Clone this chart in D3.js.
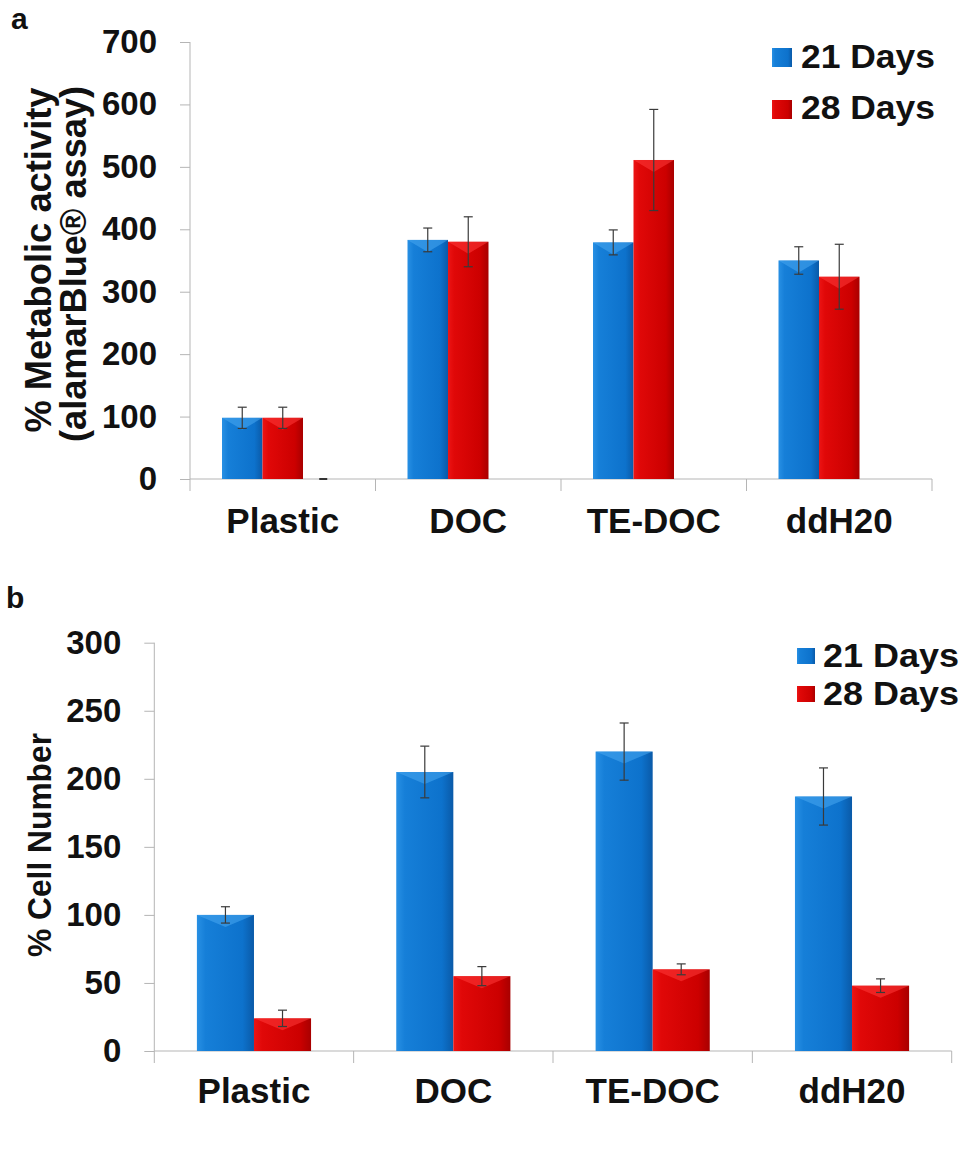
<!DOCTYPE html>
<html><head><meta charset="utf-8">
<script src="https://cdn.jsdelivr.net/npm/d3@7/dist/d3.min.js"></script>
<style>
html,body{margin:0;padding:0;background:#fff;}
svg text{font-family:"Liberation Sans",Arial,sans-serif;font-weight:bold;fill:#111;}
</style></head>
<body>
<svg id="chart" width="963" height="1173"></svg>
<script>
// ---------- data ----------
const categories = ["Plastic", "DOC", "TE-DOC", "ddH20"];
const seriesNames = ["21 Days", "28 Days"];

// Panel a: % Metabolic activity (alamarBlue assay)
const metab21 = [98, 383, 379, 350];
const metab21Err = [17, 19, 20, 22];
const metab28 = [98, 380, 511, 324];
const metab28Err = [17, 40, 81, 52];
const metabEmpty = [0, null, null, null]; // third (blank) series, zero marker on Plastic
const metabTicks = [0, 100, 200, 300, 400, 500, 600, 700];

// Panel b: % Cell Number
const cell21 = [100, 205, 220, 187];
const cell21Err = [6, 19, 21, 21];
const cell28 = [24, 55, 60, 48];
const cell28Err = [6, 7, 4, 5];
const cellTicks = [0, 50, 100, 150, 200, 250, 300];

// ---------- setup ----------
const svg = d3.select("#chart");
const defs = svg.append("defs");
function grad(id, stops){
  const g = defs.append("linearGradient").attr("id", id).attr("x1","0").attr("x2","1").attr("y1","0").attr("y2","0");
  stops.forEach(s => g.append("stop").attr("offset", s[0]).attr("stop-color", s[1]));
}
grad("gBlue", [[0,"#2890e4"],[0.15,"#167fd8"],[0.8,"#0d72cc"],[1,"#0a5aa8"]]);
grad("gRed", [[0,"#ec1414"],[0.15,"#e00808"],[0.8,"#cc0000"],[1,"#a80000"]]);
const fills = ["url(#gBlue)", "url(#gRed)"];
const topShade = ["#48a8f0", "#ff3a3a"];

function panel(o){
  const y = d3.scaleLinear().domain([0, o.ticks[o.ticks.length-1]]).range([o.y0, o.y1]);
  const x = d3.scaleBand().domain(categories).range([o.x0, o.x1]).padding(0);
  const inner = d3.scaleBand().domain(o.slots).range([o.gap, x.bandwidth() - o.gap]).padding(0);
  const g = svg.append("g");

  // y axis
  const ya = g.append("g").attr("transform", `translate(${o.x0},0)`)
    .call(d3.axisLeft(y).tickValues(o.ticks).tickSize(10).tickSizeOuter(0).tickPadding(23));
  ya.select(".domain").attr("stroke", "#b5b5b5").attr("d", `M0,${o.y1}V${o.y0 + 12}`);
  ya.selectAll(".tick line").attr("stroke", "#b5b5b5");
  ya.selectAll(".tick text").style("font-size", "33px").attr("fill", "#111")
    .style("font-family", '"Liberation Sans",Arial,sans-serif').style("font-weight", "bold");

  // x axis
  const xa = g.append("g").attr("transform", `translate(0,${o.y0})`)
    .call(d3.axisBottom(x).tickSize(0).tickPadding(0).tickFormat(""));
  xa.select(".domain").attr("stroke", "#b5b5b5").attr("d", `M${o.x0},0H${o.x1}`);
  g.append("g").selectAll("line").data(categories.slice(1).concat(["end"]))
    .join("line")
    .attr("x1", (d,i) => i < categories.length - 1 ? x(d) : o.x1)
    .attr("x2", (d,i) => i < categories.length - 1 ? x(d) : o.x1)
    .attr("y1", o.y0).attr("y2", o.y0 + 12).attr("stroke", "#b5b5b5");
  g.append("g").selectAll("text").data(categories).join("text")
    .attr("x", d => x(d) + x.bandwidth()/2).attr("y", o.labelY)
    .attr("text-anchor", "middle").style("font-size", "35px").text(d => d);

  // bars
  o.series.forEach((s, si) => {
    const sg = g.append("g");
    categories.forEach((c, ci) => {
      const v = s.vals[ci];
      const bx = x(c) + inner(seriesNames[si]);
      const w = inner.bandwidth();
      sg.append("rect").attr("x", bx).attr("y", y(v)).attr("width", w).attr("height", y(0) - y(v))
        .attr("fill", fills[si]);
      // bevel highlight at top
      sg.append("path")
        .attr("d", `M${bx},${y(v)}H${bx + w}L${bx + w*0.5},${y(v) + Math.min(12, (y(0)-y(v))/2)}Z`)
        .attr("fill", topShade[si]).attr("opacity", 0.55);
      // error bar
      const e = s.errs[ci];
      const cx = bx + w/2;
      sg.append("line").attr("x1", cx).attr("x2", cx).attr("y1", y(v + e)).attr("y2", y(v - e))
        .attr("stroke", "#3a3a3a").attr("stroke-width", 1.2);
      [v + e, v - e].forEach(t => sg.append("line").attr("x1", cx - 4.5).attr("x2", cx + 4.5)
        .attr("y1", y(t)).attr("y2", y(t)).attr("stroke", "#3a3a3a").attr("stroke-width", 1.2));
    });
  });
  if (o.empty) {
    categories.forEach((c, ci) => {
      const v = o.empty[ci];
      if (v === null) return;
      const cx = x(c) + inner("blank") + inner.bandwidth()/2;
      g.append("line").attr("x1", cx - 4).attr("x2", cx + 4).attr("y1", y(v)).attr("y2", y(v))
        .attr("stroke", "#333").attr("stroke-width", 2);
    });
  }

  // y title
  o.titles.forEach(t => {
    g.append("text").attr("transform", `translate(${t.x},${t.cy}) rotate(-90)`)
      .attr("text-anchor", "middle").style("font-size", t.fs + "px")
      .attr("textLength", t.len).attr("lengthAdjust", "spacingAndGlyphs").text(t.text);
  });

  // legend
  seriesNames.forEach((n, i) => {
    const ly = o.legend.y[i];
    g.append("rect").attr("x", o.legend.x).attr("y", ly - o.legend.sh)
      .attr("width", o.legend.sw).attr("height", o.legend.sh).attr("fill", fills[i]);
    g.append("text").attr("x", o.legend.tx).attr("y", o.legend.base[i]).style("font-size", "33px")
      .attr("textLength", o.legend.tl).attr("lengthAdjust", "spacingAndGlyphs").text(n);
  });

  // panel letter
  g.append("text").attr("x", o.letter[0]).attr("y", o.letter[1]).style("font-size", "30px").text(o.letter[2]);
}

panel({
  x0: 190, x1: 932, y0: 479, y1: 42, gap: 32, ticks: metabTicks,
  slots: ["21 Days", "28 Days", "blank"],
  series: [{vals: metab21, errs: metab21Err}, {vals: metab28, errs: metab28Err}],
  empty: metabEmpty, labelY: 533,
  titles: [{text: "% Metabolic activity", x: 51, cy: 260, len: 345, fs: 36},
           {text: "(alamarBlue\u00AE assay)", x: 86, cy: 264, len: 356, fs: 36}],
  legend: {x: 772, sw: 20, sh: 19, y: [67, 119], tx: 801, tl: 134, base: [68, 119]},
  letter: [11, 29, "a"]
});

panel({
  x0: 154.3, x1: 951.7, y0: 1051, y1: 642.7, gap: 42.6, ticks: cellTicks,
  slots: ["21 Days", "28 Days"],
  series: [{vals: cell21, errs: cell21Err}, {vals: cell28, errs: cell28Err}],
  empty: null, labelY: 1103,
  titles: [{text: "% Cell Number", x: 51, cy: 845, len: 224, fs: 33}],
  legend: {x: 797, sw: 18, sh: 16, y: [664, 702], tx: 823, tl: 136, base: [667, 705]},
  letter: [6, 608, "b"]
});
</script>
</body></html>
